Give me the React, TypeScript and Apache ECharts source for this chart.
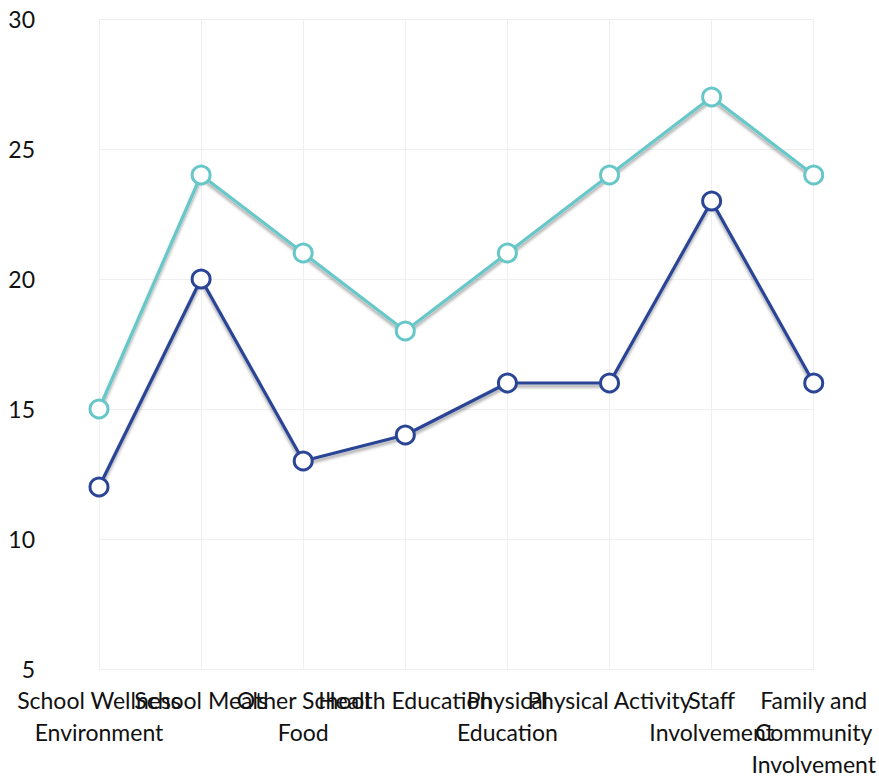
import React, { useEffect, useRef } from "react";
import * as echarts from "echarts";

const categories = [
  "School Wellness\nEnvironment",
  "School Meals",
  "Other School\nFood",
  "Health Education",
  "Physical\nEducation",
  "Physical Activity",
  "Staff\nInvolvement",
  "Family and\nCommunity\nInvolvement",
];
const seriesTeal = [15, 24, 21, 18, 21, 24, 27, 24];
const seriesBlue = [12, 20, 13, 14, 16, 16, 23, 16];
const yMin = 5;
const yMax = 30;
const yInterval = 5;

const TEAL = "#67c7c8";
const BLUE = "#2b4596";

export default function App() {
  const ref = useRef<HTMLDivElement>(null);
  useEffect(() => {
    if (!ref.current) return;
    const chart = echarts.init(ref.current, undefined, { renderer: "svg" });
    const mkSeries = (data: number[], color: string) => ({
      type: "line",
      data,
      symbol: "circle",
      symbolSize: 18,
      showSymbol: true,
      lineStyle: {
        color,
        width: 3.2,
        shadowColor: "rgba(0,0,0,0.35)",
        shadowBlur: 3,
        shadowOffsetY: 3,
      },
      itemStyle: {
        color: "#ffffff",
        borderColor: color,
        borderWidth: 3,
      },
    });
    chart.setOption({
      animation: false,
      backgroundColor: "#ffffff",
      grid: { left: 99, right: 63, top: 19, bottom: 105, containLabel: false },
      xAxis: {
        type: "category",
        data: categories,
        boundaryGap: false,
        axisLine: { show: false },
        axisTick: { show: false },
        splitLine: { show: true, lineStyle: { color: "#efefef", width: 1 } },
        axisLabel: {
          interval: 0,
          margin: 15,
          fontFamily: "Lato",
          fontSize: 23,
          lineHeight: 32,
          color: "#111111",
          align: "center",
        },
      },
      yAxis: {
        type: "value",
        min: yMin,
        max: yMax,
        interval: yInterval,
        axisLine: { show: false },
        axisTick: { show: false },
        splitLine: { show: true, lineStyle: { color: "#efefef", width: 1 } },
        axisLabel: {
          margin: 64,
          fontFamily: "Lato",
          fontSize: 23,
          color: "#111111",
        },
      },
      series: [mkSeries(seriesTeal, TEAL), mkSeries(seriesBlue, BLUE)],
    });
    return () => chart.dispose();
  }, []);
  return (
    <div
      ref={ref}
      style={{ width: 879, height: 780, position: "fixed", left: 0, top: 0, overflow: "hidden" }}
    />
  );
}
